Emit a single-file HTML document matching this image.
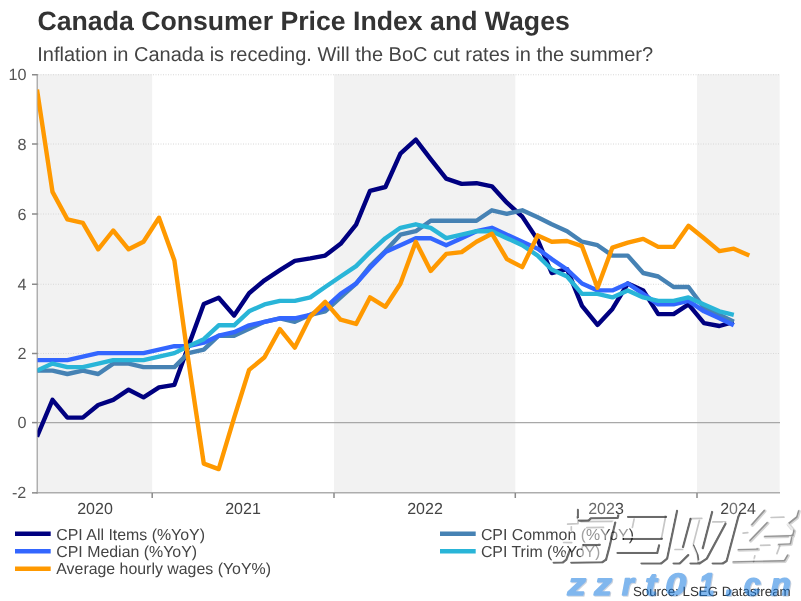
<!DOCTYPE html>
<html><head><meta charset="utf-8"><title>Canada Consumer Price Index and Wages</title>
<style>
html,body{margin:0;padding:0;background:#ffffff;}
body{width:801px;height:601px;overflow:hidden;position:relative;font-family:"Liberation Sans",sans-serif;}
svg{will-change:transform;}
.tx{text-rendering:geometricPrecision;}
</style></head><body>
<svg width="801" height="601" viewBox="0 0 801 601" style="position:absolute;left:0;top:0">
<defs><clipPath id="plot"><rect x="37.5" y="74" width="743" height="419"/></clipPath></defs>
<rect x="38" y="74.2" width="114.2" height="418.3" fill="#f2f2f2"/>
<rect x="334" y="74.2" width="181.3" height="418.3" fill="#f2f2f2"/>
<rect x="697" y="74.2" width="82.7" height="418.3" fill="#f2f2f2"/>
<line x1="38" x2="780" y1="74.75" y2="74.75" stroke="#d8d8d8" stroke-width="1" stroke-dasharray="1,1.5"/>
<line x1="38" x2="780" y1="144.00" y2="144.00" stroke="#d8d8d8" stroke-width="1" stroke-dasharray="1,1.5"/>
<line x1="38" x2="780" y1="214.00" y2="214.00" stroke="#d8d8d8" stroke-width="1" stroke-dasharray="1,1.5"/>
<line x1="38" x2="780" y1="284.25" y2="284.25" stroke="#d8d8d8" stroke-width="1" stroke-dasharray="1,1.5"/>
<line x1="38" x2="780" y1="353.50" y2="353.50" stroke="#d8d8d8" stroke-width="1" stroke-dasharray="1,1.5"/>
<line x1="38" x2="780" y1="422.60" y2="422.60" stroke="#a8a8a8" stroke-width="1.3"/>
<line x1="36.5" x2="780" y1="492.85" y2="492.85" stroke="#adadad" stroke-width="1.5"/>
<line x1="37.25" x2="37.25" y1="74" y2="493.6" stroke="#adadad" stroke-width="1.45"/>
<line x1="32" x2="37.5" y1="74.75" y2="74.75" stroke="#8a8a8a" stroke-width="1.5"/>
<line x1="32" x2="37.5" y1="144.00" y2="144.00" stroke="#8a8a8a" stroke-width="1.5"/>
<line x1="32" x2="37.5" y1="214.00" y2="214.00" stroke="#8a8a8a" stroke-width="1.5"/>
<line x1="32" x2="37.5" y1="284.25" y2="284.25" stroke="#8a8a8a" stroke-width="1.5"/>
<line x1="32" x2="37.5" y1="353.50" y2="353.50" stroke="#8a8a8a" stroke-width="1.5"/>
<line x1="32" x2="37.5" y1="422.60" y2="422.60" stroke="#8a8a8a" stroke-width="1.5"/>
<line x1="32" x2="37.5" y1="492.85" y2="492.85" stroke="#8a8a8a" stroke-width="1.5"/>
<line x1="152.2" x2="152.2" y1="493" y2="498" stroke="#8a8a8a" stroke-width="1.5"/>
<line x1="334" x2="334" y1="493" y2="498" stroke="#8a8a8a" stroke-width="1.5"/>
<line x1="515.3" x2="515.3" y1="493" y2="498" stroke="#8a8a8a" stroke-width="1.5"/>
<line x1="697" x2="697" y1="493" y2="498" stroke="#8a8a8a" stroke-width="1.5"/>
<g clip-path="url(#plot)" fill="none" stroke-width="4.4" stroke-linejoin="round" stroke-linecap="butt">
<path d="M37.0,436.7 L52.5,399.8 L67.4,417.6 L82.8,417.6 L98.2,405.0 L113.2,399.8 L128.6,389.7 L143.5,397.4 L159.0,387.3 L174.4,384.8 L188.3,346.2 L203.8,304.0 L218.7,297.8 L234.1,315.5 L249.1,293.2 L264.5,280.3 L279.9,270.2 L294.8,260.8 L310.3,258.4 L325.2,255.6 L340.6,243.8 L356.1,224.6 L370.0,190.8 L385.4,187.0 L400.4,153.6 L415.8,139.6 L430.7,159.1 L446.2,178.6 L461.6,183.9 L476.5,183.2 L491.9,186.3 L506.9,202.7 L522.3,216.6 L537.7,239.9 L551.7,273.0 L567.1,269.2 L582.0,305.8 L597.5,324.9 L612.4,308.9 L627.8,283.5 L643.2,290.4 L658.2,314.1 L673.6,314.1 L688.5,304.4 L704.0,323.2 L719.4,326.0 L733.8,321.8" stroke="#000080"/>
<path d="M37.0,370.6 L52.5,370.6 L67.4,374.0 L82.8,370.6 L98.2,374.0 L113.2,363.6 L128.6,363.6 L143.5,367.1 L159.0,367.1 L174.4,367.1 L188.3,353.1 L203.8,349.7 L218.7,335.7 L234.1,335.7 L249.1,328.8 L264.5,321.8 L279.9,318.3 L294.8,321.8 L310.3,314.8 L325.2,311.3 L340.6,297.4 L356.1,283.5 L370.0,266.1 L385.4,251.1 L400.4,234.7 L415.8,231.2 L430.7,220.8 L446.2,220.8 L461.6,220.8 L476.5,220.8 L491.9,210.3 L506.9,213.8 L522.3,210.3 L537.7,217.3 L551.7,224.3 L567.1,231.2 L582.0,241.7 L597.5,245.2 L612.4,255.6 L627.8,255.6 L643.2,273.0 L658.2,276.5 L673.6,287.0 L688.5,287.0 L704.0,307.9 L719.4,314.8 L733.8,321.8" stroke="#4682b4"/>
<path d="M37.0,360.1 L52.5,360.1 L67.4,360.1 L82.8,356.6 L98.2,353.1 L113.2,353.1 L128.6,353.1 L143.5,353.1 L159.0,349.7 L174.4,346.2 L188.3,346.2 L203.8,342.7 L218.7,335.7 L234.1,332.2 L249.1,325.3 L264.5,321.8 L279.9,318.3 L294.8,318.3 L310.3,314.8 L325.2,307.9 L340.6,293.9 L356.1,283.5 L370.0,267.8 L385.4,252.1 L400.4,245.2 L415.8,238.2 L430.7,238.2 L446.2,245.2 L461.6,238.2 L476.5,231.2 L491.9,227.8 L506.9,234.7 L522.3,241.7 L537.7,248.7 L551.7,259.1 L567.1,269.5 L582.0,283.5 L597.5,290.4 L612.4,290.4 L627.8,283.5 L643.2,293.9 L658.2,304.4 L673.6,304.4 L688.5,300.9 L704.0,311.3 L719.4,318.3 L733.8,325.3" stroke="#3366ff"/>
<path d="M37.0,370.6 L52.5,363.6 L67.4,367.1 L82.8,367.1 L98.2,363.6 L113.2,360.1 L128.6,360.1 L143.5,360.1 L159.0,356.6 L174.4,353.1 L188.3,346.2 L203.8,339.2 L218.7,325.3 L234.1,325.3 L249.1,311.3 L264.5,304.4 L279.9,300.9 L294.8,300.9 L310.3,297.4 L325.2,287.0 L340.6,276.5 L356.1,266.1 L370.0,252.1 L385.4,238.2 L400.4,227.8 L415.8,224.3 L430.7,227.8 L446.2,238.2 L461.6,234.7 L476.5,231.2 L491.9,231.2 L506.9,238.2 L522.3,245.2 L537.7,255.6 L551.7,269.5 L567.1,276.5 L582.0,293.9 L597.5,293.9 L612.4,297.4 L627.8,290.4 L643.2,297.4 L658.2,300.9 L673.6,300.9 L688.5,297.4 L704.0,304.4 L719.4,311.3 L733.8,314.8" stroke="#29b5d8"/>
<path d="M37.0,89.5 L52.5,191.9 L67.4,219.4 L82.8,222.9 L98.2,249.3 L113.2,230.5 L128.6,249.3 L143.5,241.7 L159.0,217.7 L174.4,260.5 L188.3,360.1 L203.8,463.6 L218.7,469.1 L234.1,417.9 L249.1,369.9 L264.5,357.3 L279.9,329.1 L294.8,347.6 L310.3,316.6 L325.2,301.9 L340.6,319.7 L356.1,323.9 L370.0,297.4 L385.4,306.8 L400.4,283.8 L415.8,241.7 L430.7,270.9 L446.2,253.9 L461.6,252.1 L476.5,241.7 L491.9,233.7 L506.9,259.1 L522.3,267.1 L537.7,235.4 L551.7,241.7 L567.1,241.0 L582.0,246.2 L597.5,287.7 L612.4,247.6 L627.8,242.7 L643.2,238.9 L658.2,246.9 L673.6,246.9 L688.5,225.7 L704.0,238.2 L719.4,251.1 L733.8,248.7 L749.3,255.6" stroke="#ff9900"/>
</g>
<line x1="15" x2="50.7" y1="533.7" y2="533.7" stroke="#000080" stroke-width="4.4"/>
<line x1="15" x2="50.7" y1="551.3" y2="551.3" stroke="#3366ff" stroke-width="4.4"/>
<line x1="15" x2="50.7" y1="568.8" y2="568.8" stroke="#ff9900" stroke-width="4.4"/>
<line x1="440" x2="475.7" y1="533.7" y2="533.7" stroke="#4682b4" stroke-width="4.4"/>
<line x1="440" x2="475.7" y1="551.3" y2="551.3" stroke="#29b5d8" stroke-width="4.4"/>
<g font-family="Liberation Sans, sans-serif" class="tx">
<text x="37.5" y="29.8" font-size="26.67" font-weight="bold" fill="#333333">Canada Consumer Price Index and Wages</text>
<text x="37.3" y="60.6" font-size="20" fill="#444444">Inflation in Canada is receding. Will the BoC cut rates in the summer?</text>
<text x="26.4" y="80.3" font-size="16.2" fill="#555555" text-anchor="end">10</text>
<text x="26.4" y="149.6" font-size="16.2" fill="#555555" text-anchor="end">8</text>
<text x="26.4" y="219.6" font-size="16.2" fill="#555555" text-anchor="end">6</text>
<text x="26.4" y="289.8" font-size="16.2" fill="#555555" text-anchor="end">4</text>
<text x="26.4" y="359.1" font-size="16.2" fill="#555555" text-anchor="end">2</text>
<text x="26.4" y="428.2" font-size="16.2" fill="#555555" text-anchor="end">0</text>
<text x="26.4" y="498.4" font-size="16.2" fill="#555555" text-anchor="end">-2</text>
<text x="95" y="514.1" font-size="16" fill="#444444" text-anchor="middle">2020</text>
<text x="243" y="514.1" font-size="16" fill="#444444" text-anchor="middle">2021</text>
<text x="425" y="514.1" font-size="16" fill="#444444" text-anchor="middle">2022</text>
<text x="606" y="514.1" font-size="16" fill="#444444" text-anchor="middle">2023</text>
<text x="738" y="514.1" font-size="16" fill="#444444" text-anchor="middle">2024</text>
<text x="56.3" y="539.6" font-size="15.9" fill="#444444">CPI All Items (%YoY)</text>
<text x="56.3" y="556.8" font-size="15.9" fill="#444444">CPI Median (%YoY)</text>
<text x="56.3" y="574.4" font-size="15.9" fill="#444444">Average hourly wages (YoY%)</text>
<text x="480.9" y="539.6" font-size="15.9" fill="#444444">CPI Common (%YoY)</text>
<text x="480.9" y="556.8" font-size="15.9" fill="#444444">CPI Trim (%YoY)</text>
<text x="790.7" y="596" font-size="13.33" fill="#333333" text-anchor="end">Source: LSEG Datastream</text>
</g>
<defs><filter id="shb" x="-5%" y="-5%" width="110%" height="110%"><feGaussianBlur stdDeviation="0.7"/></filter><filter id="bsh" x="-10%" y="-10%" width="120%" height="130%"><feDropShadow dx="1.0" dy="0.8" stdDeviation="0.5" flood-color="#35557f" flood-opacity="0.55"/></filter></defs>
<polygon fill="#ffffff" opacity="0.2" points="580,503 616,503 614,517 590,517 588,519.5 578,519.5"/>
<polygon fill="#ffffff" opacity="0.5" points="581,522 586.5,522 584,543 577,543"/>
<polygon fill="#ffffff" opacity="0.5" points="586.5,522 609,522 608,527.5 586,527.5"/>
<polygon fill="#ffffff" opacity="0.42" points="586,527.5 608,527.5 605,543 584,543"/>
<polygon fill="#ffffff" opacity="0.5" points="566.5,508.5 577,508.5 577,523 566.5,523"/>
<polygon fill="#ffffff" opacity="0.5" points="583,545.5 607,545.5 604,561 580,561"/>
<polygon fill="#ffffff" opacity="0.45" points="616,526 629,526 627,538 614,538"/>
<polygon fill="#ffffff" opacity="0.25" points="729,503 741,503 738,516 726,516"/>
<g fill="none" stroke="#000" stroke-linecap="round" stroke-linejoin="round" filter="url(#shb)">
<g stroke-width="2.3" opacity="0.58">
<polyline points="579.1999999999999,520.5 588.9,520.3 591.0,518.1 617.6999999999999,517.8 618.1999999999999,515.4"/>
<polyline points="615.1999999999999,522.6 609.0,548.4 606.0,559.6"/>
<polyline points="571.3,562.6 602.3,562.1999999999999 606.0,559.6"/>
<polyline points="553.6999999999999,562.6 563.0,562.4 566.3,559.6999999999999 570.1,549.6"/>
<polyline points="583.5,545.0 599.8,544.8"/>
<polyline points="577.8,509.9 577.8,517.9"/>
<polyline points="628.1,516.9 666.0,516.9"/>
<polyline points="624.0,538.8 661.9,538.8"/>
<polyline points="617.6,552.9 657.1999999999999,552.9 659.0,545.4"/>
<polyline points="641.5,563.3 661.3,563.3 667.1,558.6 677.0,510.9"/>
<polyline points="690.5,519.0 683.0,547.0"/>
<polyline points="712.1,512.0 702.8,548.1"/>
<polyline points="673.6,563.3 680.0,563.3 688.1999999999999,555.1"/>
<polyline points="725.5,523.6999999999999 706.8,558.6 699.8,563.3"/>
<polyline points="739.4,514.4 738.3,516.6999999999999 726.6,561.0 723.1,563.3 712.6999999999999,563.3"/>
<polyline points="693.4,545.8 697.5,555.1 698.6999999999999,563.3 690.5,563.3"/>
</g><g stroke-width="3.6" opacity="0.17">
<polyline points="764.7,511.1 752.4,525"/>
<polyline points="767.6,523.3 750.7,540.8"/>
<polyline points="739,550 758.3,549.5"/>
<polyline points="733.8,562.3 753.6,561.8 785,561.1 788,555.9"/>
<polyline points="799,511.6 797.3,517.5 788.5,524.5 794.4,531.4 793.2,535.8"/>
<polyline points="765.3,536.7 793.2,536.1"/>
<polyline points="779.2,544.8 790.9,544.2 792,538.4"/>
</g><g stroke-width="1.6" opacity="0.30">
<polyline points="764.2,510.6 751.9,524.5"/>
<polyline points="767.1,522.8 750.2,540.3"/>
<polyline points="738.5,549.5 757.8,549.0"/>
<polyline points="733.3,561.8 753.1,561.3 784.5,560.6 787.5,555.4"/>
<polyline points="798.5,511.1 796.8,517.0 788.0,524.0 793.9,530.9 792.7,535.3"/>
<polyline points="764.8,536.2 792.7,535.6"/>
<polyline points="778.7,544.3 790.4,543.7 791.5,537.9"/>
</g><g stroke-width="1.7" opacity="0.22">
<polyline points="567.6,524.1 578,523.7 578,518"/>
<polyline points="571.3,526.8 571.3,530.1"/>
<polyline points="586.8,527.6 603.5,527.4"/>
<polyline points="563.6,542.5 571.7,542.7"/>
<polyline points="583.1,544.6 581.8,549.2"/>
<polyline points="581,521.6 613,521.4"/>
<polyline points="634.1,519.2 632.4,527.4"/>
<polyline points="665.6,516.5 661.5,538.4"/>
<polyline points="690.1,518.6 701.8,518.4"/>
<polyline points="699.4,520.4 693,545.4"/>
<polyline points="675,549.5 682.6,549.5"/>
<polyline points="712.8,521.9 725.6,521.9"/>
<polyline points="771.1,517.5 783.9,517.2"/>
<polyline points="743.1,533.2 747.8,532.6"/>
<polyline points="760.6,545.4 769.9,545.2"/>
<polyline points="779.8,546 776.9,553.6"/>
<polyline points="754.8,555.9 753.6,561.7"/>
</g></g>
<g fill="none" stroke="#ffffff" stroke-linecap="butt" stroke-linejoin="round" stroke-width="1.5" opacity="0.85">
<polyline points="577.55,518.85 587.25,518.65 589.35,516.45 616.05,516.15 616.55,513.75"/>
<polyline points="613.55,520.95 607.35,546.75 604.35,557.95"/>
<polyline points="569.65,560.95 600.65,560.55 604.35,557.95"/>
<polyline points="552.05,560.95 561.35,560.75 564.65,558.05 568.45,547.95"/>
<polyline points="581.85,543.35 598.15,543.15"/>
<polyline points="576.15,508.25 576.15,516.25"/>
<polyline points="626.45,515.25 664.35,515.25"/>
<polyline points="622.35,537.15 660.25,537.15"/>
<polyline points="615.95,551.25 655.55,551.25 657.35,543.75"/>
<polyline points="639.85,561.65 659.65,561.65 665.45,556.95 675.35,509.25"/>
<polyline points="688.85,517.35 681.35,545.35"/>
<polyline points="710.45,510.35 701.15,546.45"/>
<polyline points="671.95,561.65 678.35,561.65 686.55,553.45"/>
<polyline points="723.85,522.05 705.15,556.95 698.15,561.65"/>
<polyline points="737.75,512.75 736.65,515.05 724.95,559.35 721.45,561.65 711.05,561.65"/>
<polyline points="691.75,544.15 695.85,553.45 697.05,561.65 688.85,561.65"/>
</g>
<g fill="none" stroke="#ffffff" stroke-linecap="butt" stroke-linejoin="round" stroke-width="2.0" opacity="0.8">
<polyline points="762.7,509.1 750.4,523.0"/>
<polyline points="765.6,521.3 748.7,538.8"/>
<polyline points="737.0,548.0 756.3,547.5"/>
<polyline points="731.8,560.3 751.6,559.8 783.0,559.1 786.0,553.9"/>
<polyline points="797.0,509.6 795.3,515.5 786.5,522.5 792.4,529.4 791.2,533.8"/>
<polyline points="763.3,534.7 791.2,534.1"/>
<polyline points="777.2,542.8 788.9,542.2 790.0,536.4"/>
</g>
<g font-family="Liberation Sans, sans-serif" font-weight="bold" font-style="italic" font-size="31.0" fill="#0a74de" stroke="#0a74de" stroke-width="1.6" stroke-linejoin="round" opacity="0.52" filter="url(#bsh)" class="tx">
<text transform="translate(567.57,595.3) scale(1.183,1)" stroke-width="1.35">z</text>
<text transform="translate(594.25,595.3) scale(1.132,1)" stroke-width="1.41">z</text>
<text transform="translate(622.10,595.3) scale(0.975,1)" stroke-width="1.64">r</text>
<text transform="translate(645.32,595.3) scale(1.114,1)" stroke-width="1.44">t</text>
<text transform="translate(665.29,595.3) scale(1.214,1)" stroke-width="1.32">0</text>
<text transform="translate(699.12,595.3) scale(0.890,1)" stroke-width="1.80">1</text>
<text transform="translate(725.66,595.3) scale(0.878,1)" stroke-width="1.82">.</text>
<text transform="translate(743.91,595.3) scale(0.955,1)" stroke-width="1.67">c</text>
<text transform="translate(770.47,595.3) scale(1.077,1)" stroke-width="1.49">n</text>
</g>
</svg>
</body></html>
